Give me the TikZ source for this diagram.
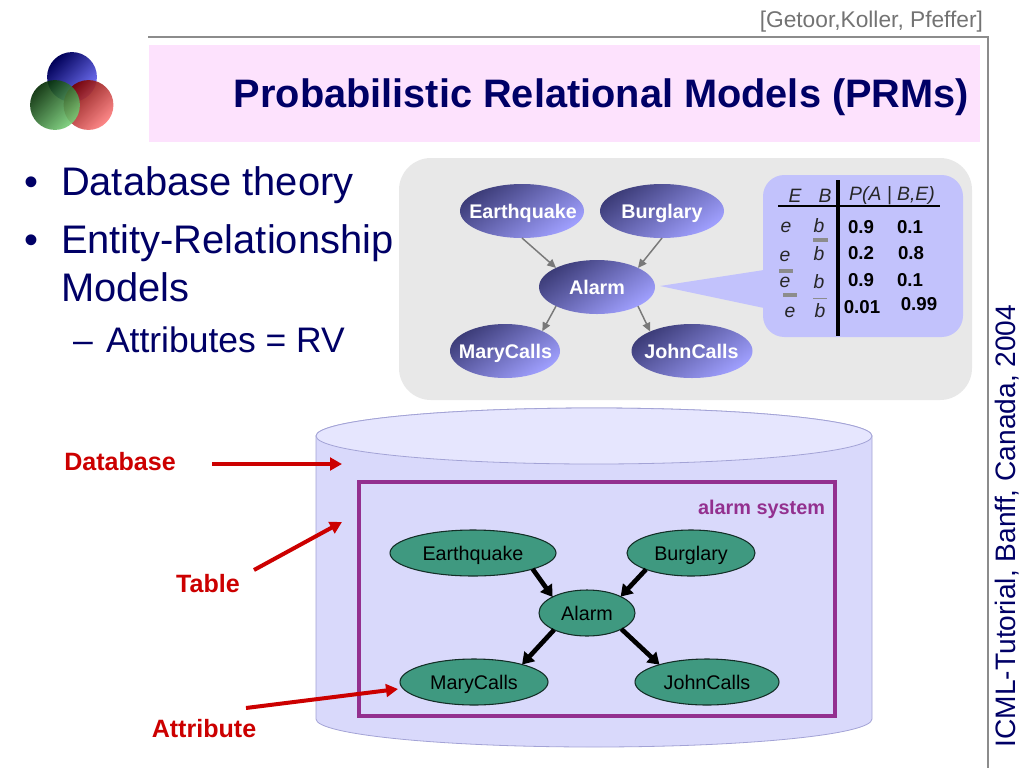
\documentclass[tikz,border=0pt]{standalone}
\usepackage{fontspec}
\setmainfont{Liberation Sans}
\usetikzlibrary{shapes.geometric,arrows.meta}
\definecolor{navy}{HTML}{000066}
\definecolor{pinkbg}{HTML}{FDE2FD}
\definecolor{rulegray}{HTML}{8C8C8C}
\definecolor{panel}{HTML}{E8E8E8}
\definecolor{callout}{HTML}{C2C2FC}
\definecolor{cylbody}{HTML}{D9D9FB}
\definecolor{cyltop}{HTML}{E6E6FE}
\definecolor{cylline}{HTML}{A3A3D6}
\definecolor{purp}{HTML}{93308F}
\definecolor{teal}{HTML}{3F9980}
\definecolor{redx}{HTML}{CC0000}
\definecolor{blueA}{HTML}{3C3C78}
\definecolor{blueB}{HTML}{A0A0FF}
\definecolor{ballbA}{HTML}{000058}
\definecolor{ballbB}{HTML}{7878FF}
\definecolor{ballgA}{HTML}{002800}
\definecolor{ballgB}{HTML}{78D078}
\definecolor{ballrA}{HTML}{780000}
\definecolor{ballrB}{HTML}{FF8080}
\newcommand{\fsz}[1]{\fontsize{#1}{#1}\selectfont}
\tikzset{
  x=0.75pt,y=-0.75pt,
  lbl/.style={inner sep=0pt,outer sep=0pt,anchor=base west},
  lblc/.style={inner sep=0pt,outer sep=0pt,anchor=base},
  bullet/.style={lbl,text=navy,font=\fsz{29.9}},
  subbullet/.style={lbl,text=navy,font=\fsz{26.6}},
  bluenode/.style={ellipse,inner sep=0pt,outer sep=0pt,minimum width=#1*0.75pt,minimum height=40.5pt,
    top color=blueA,bottom color=blueB,shading angle=35},
  greennode/.style={ellipse,draw=black!70!teal,line width=0.8pt,fill=teal,inner sep=0pt,outer sep=0pt,
    minimum width=#1*0.75pt,minimum height=34.5pt},
  bluetext/.style={lblc,text=white,font=\bfseries\fsz{14.8}},
  greentext/.style={lblc,text=black,font=\fsz{14.8}},
  grayarrow/.style={draw=gray!95!black,line width=1.1pt,-{Triangle[length=6.5pt,width=6pt]}},
  blackarrow/.style={draw=black,line width=3.5pt,-{Triangle[length=8.5pt,width=10.5pt]}},
  redarrow/.style={draw=redx,line width=3pt,-{Triangle[length=9pt,width=9.5pt]}},
  redlabel/.style={lblc,text=redx,font=\bfseries\fsz{18.8}},
  hdr/.style={lblc,font=\itshape\fsz{14.5},text=black!85},
  cell/.style={lblc,font=\itshape\fsz{14.5},text=black!85},
  num/.style={lblc,font=\bfseries\fsz{14},text=black},
  bar/.style={fill=gray!90},
}
\begin{document}
\begin{tikzpicture}
\useasboundingbox[fill=white] (0,0) rectangle (1024,768);
% frame
\fill[pinkbg] (149,45) rectangle (980,142);
\coordinate (ruleA) at (148,37);
\coordinate (ruleB) at (988,37);
\coordinate (ruleC) at (988,768);
\draw[rulegray,line width=0.9pt] (ruleA) -- (ruleB) -- (ruleC);
% logo
\shade[top color=ballbA,bottom color=ballbB,shading angle=45] (72,77) circle [radius=18.7pt];
\begin{scope}[opacity=0.92,transparency group]
\shade[top color=ballrA,bottom color=ballrB,shading angle=45] (88.5,105) circle [radius=18.7pt];
\end{scope}
\begin{scope}[opacity=0.9,transparency group]
\shade[top color=ballgA,bottom color=ballgB,shading angle=45] (55,105) circle [radius=18.7pt];
\end{scope}
% title and side texts
\node[lbl,text=navy,font=\bfseries\fsz{29.8},anchor=base east] (title) at (969,107) {Probabilistic Relational Models (PRMs)};
\node[lbl,anchor=base east,text=black!55,font=\fsz{17.05}] (cite) at (983,27) {[Getoor,Koller, Pfeffer]};
\node[lbl,anchor=base,rotate=90,text=navy,font=\fsz{21.1}] (venue) at (1015,526) {ICML-Tutorial, Banff, Canada, 2004};
% bullets
\node[bullet] (b1) at (24,195) {•};
\node[bullet] (t1) at (61,195) {Database theory};
\node[bullet] (b2) at (24,253) {•};
\node[bullet] (t2) at (61,253) {Entity-Relationship};
\node[bullet] (t2b) at (61,301) {Models};
\node[subbullet] (d3) at (73,352) {–};
\node[subbullet] (t3) at (106,352) {Attributes = RV};
% upper panel
\fill[panel,rounded corners=24pt] (399,158) rectangle (972,400);
\fill[callout,rounded corners=16pt] (763,175) rectangle (963,337);
\fill[callout] (660,286) -- (764,270) -- (764,308) -- cycle;
\node[bluenode=124] (ue) at (522,211) {};
\node[bluenode=124] (ub) at (662,211) {};
\node[bluenode=116] (ua) at (597,287) {};
\node[bluenode=110] (um) at (505,351) {};
\node[bluenode=121] (uj) at (692,351) {};
\node[bluetext] (uet) at (523,218) {Earthquake};
\node[bluetext] (ubt) at (662,218) {Burglary};
\node[bluetext] (uat) at (597,294) {Alarm};
\node[bluetext] (umt) at (505.5,358) {MaryCalls};
\node[bluetext] (ujt) at (691.5,358) {JohnCalls};
\draw[grayarrow] (ue.south) -- (ua.155);
\draw[grayarrow] (ub.south) -- (ua.25);
\draw[grayarrow] (ua.-155) -- (um.28);
\draw[grayarrow] (ua.-25) -- (uj.155);
% CPT
\coordinate (vt) at (838,180);
\coordinate (vb) at (838,336);
\coordinate (hl) at (778,206);
\coordinate (hr) at (940,206);
\draw[black,line width=2.3pt] (vt) -- (vb);
\draw[black,line width=1.9pt] (hl) -- (hr);
\node[hdr] (hE) at (795,202) {E};
\node[hdr] (hB) at (825,202) {B};
\node[hdr] (hP) at (892,200) {P(A | B,E)};
\node[cell] (r1e) at (786,232) {e};
\node[cell] (r1b) at (819,232) {b};
\node[num] (r1p) at (861,233) {0.9};
\node[num] (r1q) at (910,233) {0.1};
\fill[bar] (813,238) rectangle (828,242);
\node[cell] (r2e) at (785,261) {e};
\node[cell] (r2b) at (819,260) {b};
\node[num] (r2p) at (861,259) {0.2};
\node[num] (r2q) at (911,259) {0.8};
\fill[bar] (779,269) rectangle (793,273);
\node[cell] (r3e) at (785,287) {e};
\node[cell] (r3b) at (819,288) {b};
\node[num] (r3p) at (861,286) {0.9};
\node[num] (r3q) at (910,286) {0.1};
\fill[bar] (783,293) rectangle (797,297);
\node[cell] (r4e) at (790,317) {e};
\node[cell] (r4b) at (820,317) {b};
\fill[gray!90] (813,297.5) rectangle (827,298.5);
\node[num] (r4p) at (862,313) {0.01};
\node[num] (r4q) at (919,310) {0.99};
% cylinder
\draw[cylline,fill=cylbody,line width=0.6pt] (316,436) -- (316,719)
  arc[start angle=180,end angle=360,x radius=208.5pt,y radius=21pt] -- (872,436)
  arc[start angle=0,end angle=180,x radius=208.5pt,y radius=21pt] -- cycle;
\draw[cylline,fill=cyltop,line width=0.6pt] (594,436) ellipse [x radius=208.5pt,y radius=21pt];
\draw[purp,line width=3pt] (359,482) rectangle (835,716);
\node[lbl,anchor=base east,text=purp,font=\bfseries\fsz{14.9}] (sys) at (825,514) {alarm system};
\node[greennode=166] (le) at (473,553) {};
\node[greennode=128] (lb) at (691,553) {};
\node[greennode=96] (la) at (587,613) {};
\node[greennode=148] (lm) at (474,682) {};
\node[greennode=144] (lj) at (707,682) {};
\node[greentext] (let) at (473,560) {Earthquake};
\node[greentext] (lbt) at (691,560) {Burglary};
\node[greentext] (lat2) at (587,620) {Alarm};
\node[greentext] (lmt) at (474,689) {MaryCalls};
\node[greentext] (ljt) at (707,689) {JohnCalls};
\draw[blackarrow] (le.-15) -- (la.155);
\draw[blackarrow] (lb.200) -- (la.26);
\draw[blackarrow] (la.-153) -- (lm.20);
\draw[blackarrow] (la.-25) -- (lj.160);
% red labels
\node[redlabel] (ldb) at (120,470) {Database};
\node[redlabel] (ltb) at (208,592) {Table};
\node[redlabel] (lat) at (204,737) {Attribute};
\coordinate (a1s) at (212,464);
\coordinate (a1e) at (342,464);
\coordinate (a2s) at (254,570);
\coordinate (a2e) at (342,522);
\coordinate (a3s) at (246,708);
\coordinate (a3e) at (398,689);
\draw[redarrow] (a1s) -- (a1e);
\draw[redarrow] (a2s) -- (a2e);
\draw[redarrow] (a3s) -- (a3e);
\end{tikzpicture}
\end{document}
